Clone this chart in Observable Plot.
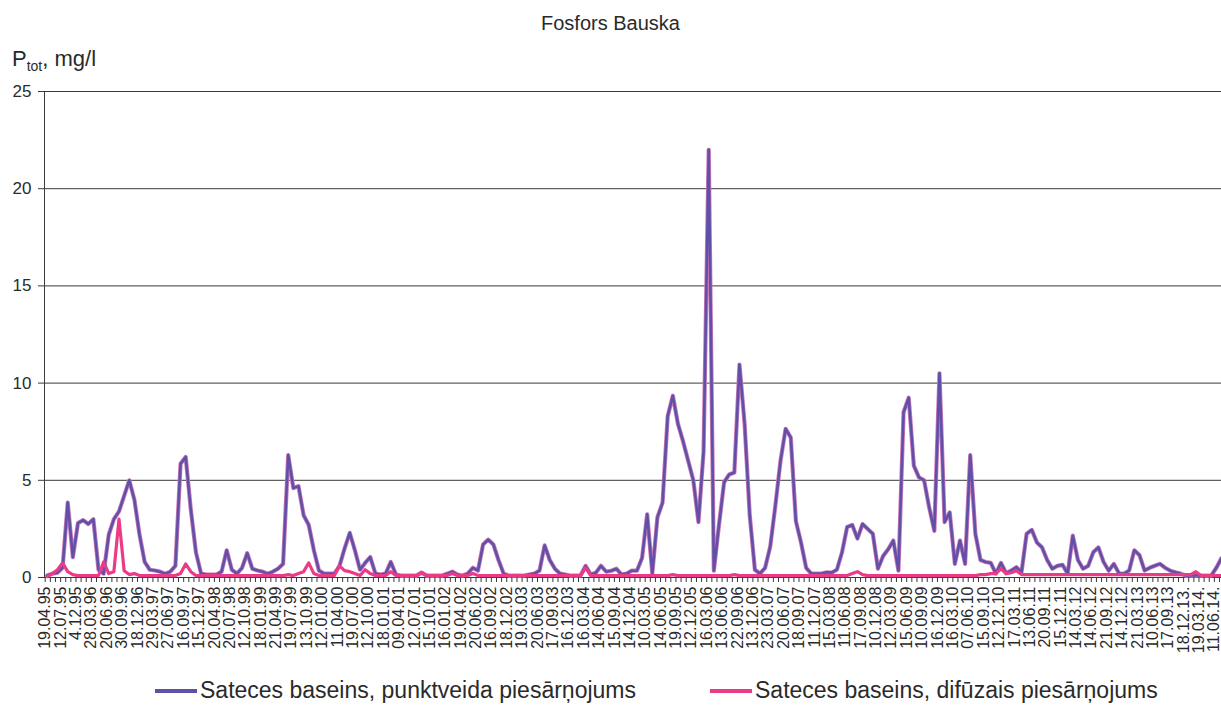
<!DOCTYPE html>
<html><head><meta charset="utf-8">
<script src="https://cdn.jsdelivr.net/npm/d3@7"></script>
<script src="https://cdn.jsdelivr.net/npm/@observablehq/plot@0.6"></script>
<style>
body{margin:0;background:#fff;font-family:"Liberation Sans",Arial,sans-serif;}
#wrap{position:relative;width:1221px;height:728px;overflow:hidden;background:#fff;}
#chart{position:absolute;left:0;top:0;}
#title{position:absolute;left:0;width:1221px;top:12px;text-align:center;font-size:20px;color:#2a2a2a;}
#ylab{position:absolute;left:12px;top:46px;font-size:22px;color:#2a2a2a;}
#ylab sub{font-size:14px;vertical-align:-5px;}
.item{position:absolute;top:677px;display:flex;align-items:center;font-size:23px;color:#2a2a2a;white-space:nowrap;}
.sw{display:inline-block;width:42px;height:4px;margin-right:3px;}
</style></head><body>
<div id="wrap">
<div id="chart"></div>
<div id="title">Fosfors Bauska</div>
<div id="ylab">P<sub>tot</sub>, mg/l</div>
<div id="leg1" class="item"><span class="sw" id="sw1"></span><span id="lt1"></span></div>
<div id="leg2" class="item"><span class="sw" id="sw2"></span><span id="lt2"></span></div>
</div>
<script>
const title = "Fosfors Bauska";
const seriesNames = ["Sateces baseins, punktveida piesārņojums", "Sateces baseins, difūzais piesārņojums"];
const seriesColors = ["#6050a8", "#ec3b86"];
const haloColor = "#c978b8";
const yTicks = [0, 5, 10, 15, 20, 25];
// tick labels: one label every 3rd sample
const dateLabels = ["19.04.95","12.07.95","4.12.95","28.03.96","20.06.96","30.09.96","18.12.96","29.03.97","27.06.97","16.09.97","15.12.97","20.04.98","20.07.98","12.10.98","18.01.99","21.04.99","19.07.99","13.10.99","12.01.00","11.04.00","19.07.00","12.10.00","18.01.01","09.04.01","12.07.01","15.10.01","16.01.02","19.04.02","20.06.02","16.09.02","18.12.02","19.03.03","20.06.03","17.09.03","16.12.03","16.03.04","14.06.04","15.09.04","14.12.04","10.03.05","14.06.05","19.09.05","12.12.05","16.03.06","13.06.06","22.09.06","13.12.06","23.03.07","20.06.07","18.09.07","11.12.07","15.03.08","11.06.08","17.09.08","10.12.08","12.03.09","15.06.09","10.09.09","16.12.09","16.03.10","07.06.10","15.09.10","12.12.10","17.03.11","13.06.11","20.09.11","15.12.11","14.03.12","14.06.12","21.09.12","14.12.12","21.03.13","10.06.13","17.09.13","18.12.13.","19.03.14.","11.06.14."];
// point source (purple), one value per sample
const pointSource = [
0.1,0.2,0.25,0.5,3.85,1.05,2.8,2.95,2.75,3.0,
0.4,0.2,2.2,3.0,3.4,4.2,5.0,4.0,2.2,0.8,
0.4,0.36,0.3,0.2,0.3,0.6,5.85,6.2,3.5,1.3,
0.2,0.15,0.15,0.15,0.3,1.4,0.4,0.2,0.5,1.25,
0.45,0.36,0.3,0.2,0.3,0.45,0.7,6.3,4.6,4.7,
3.2,2.7,1.4,0.35,0.2,0.2,0.2,0.6,1.5,2.3,
1.4,0.4,0.75,1.05,0.2,0.15,0.2,0.8,0.15,0.1,
0.1,0.1,0.1,0.25,0.1,0.1,0.1,0.1,0.2,0.3,
0.15,0.1,0.2,0.5,0.35,1.7,1.95,1.7,0.9,0.2,
0.1,0.1,0.1,0.1,0.15,0.2,0.35,1.65,0.9,0.45,
0.2,0.15,0.1,0.1,0.1,0.6,0.15,0.25,0.6,0.3,
0.35,0.45,0.15,0.2,0.35,0.35,1.0,3.25,0.2,3.1,
3.85,8.3,9.35,7.9,7.0,6.0,5.0,2.85,6.5,22.0,
0.35,2.7,4.9,5.3,5.4,10.95,7.9,3.2,0.4,0.2,
0.5,1.6,3.7,6.0,7.65,7.2,2.9,1.8,0.5,0.2,
0.2,0.2,0.27,0.25,0.4,1.3,2.6,2.7,2.0,2.75,
2.5,2.25,0.45,1.1,1.45,1.9,0.35,8.5,9.25,5.75,
5.15,5.0,3.6,2.4,10.5,2.85,3.35,0.7,1.9,0.7,
6.3,2.25,0.9,0.8,0.75,0.2,0.75,0.22,0.36,0.53,
0.27,2.25,2.45,1.8,1.55,0.9,0.45,0.6,0.65,0.2,
2.15,0.9,0.45,0.6,1.3,1.55,0.8,0.35,0.7,0.22,
0.2,0.36,1.4,1.15,0.36,0.5,0.6,0.7,0.5,0.35,
0.27,0.2,0.1,0.1,0.1,0.1,0.1,0.1,0.5,1.0
];
// diffuse source (pink)
const diffuseSource = [
0.05,0.2,0.4,0.75,0.3,0.15,0.1,0.1,0.1,0.1,
0.1,0.8,0.2,0.3,3.0,0.35,0.15,0.2,0.1,0.1,
0.1,0.1,0.1,0.1,0.1,0.1,0.2,0.7,0.3,0.1,
0.1,0.1,0.1,0.1,0.1,0.1,0.1,0.1,0.1,0.1,
0.1,0.1,0.1,0.1,0.1,0.1,0.1,0.15,0.1,0.2,
0.3,0.75,0.2,0.1,0.1,0.1,0.1,0.6,0.35,0.3,
0.2,0.1,0.4,0.2,0.1,0.1,0.1,0.3,0.1,0.1,
0.1,0.1,0.1,0.25,0.1,0.1,0.1,0.1,0.1,0.2,
0.1,0.1,0.1,0.2,0.1,0.1,0.1,0.1,0.1,0.1,
0.1,0.1,0.1,0.1,0.1,0.1,0.1,0.1,0.1,0.1,
0.1,0.1,0.1,0.1,0.1,0.5,0.1,0.1,0.1,0.1,
0.1,0.1,0.1,0.1,0.1,0.1,0.1,0.1,0.1,0.1,
0.1,0.1,0.15,0.1,0.1,0.1,0.1,0.1,0.1,0.1,
0.1,0.1,0.1,0.1,0.15,0.1,0.1,0.1,0.1,0.1,
0.1,0.1,0.1,0.1,0.1,0.1,0.1,0.1,0.1,0.1,
0.1,0.1,0.1,0.1,0.1,0.1,0.1,0.2,0.3,0.15,
0.1,0.1,0.1,0.1,0.1,0.1,0.1,0.1,0.1,0.1,
0.1,0.1,0.1,0.1,0.1,0.1,0.1,0.1,0.1,0.1,
0.1,0.1,0.15,0.15,0.2,0.2,0.45,0.2,0.25,0.35,
0.15,0.15,0.15,0.15,0.15,0.15,0.15,0.15,0.15,0.15,
0.15,0.15,0.15,0.15,0.15,0.15,0.15,0.15,0.15,0.15,
0.15,0.15,0.15,0.15,0.15,0.15,0.15,0.15,0.15,0.15,
0.15,0.15,0.15,0.15,0.3,0.1,0.1,0.1,0.1,0.1
];

const N = pointSource.length;
const idx = d3.range(N);
const font = '"Liberation Sans", Arial, sans-serif';

const chart = Plot.plot({
  width: 1221, height: 665,
  marginLeft: 44, marginRight: 0, marginTop: 91, marginBottom: 88,
  style: {fontFamily: font, color: "#2a2a2a", background: "transparent"},
  x: {type: "linear", domain: [-0.53, N - 1]},
  y: {domain: [0, 25]},
  marks: [
    Plot.ruleY(yTicks, {stroke: "#3a3a3a", strokeWidth: 1}),
    Plot.ruleX([-0.53], {y1: 0, y2: 25, stroke: "#3a3a3a", strokeWidth: 1}),
    Plot.lineY(pointSource, {x: (d, i) => i, y: d => d, stroke: haloColor, strokeWidth: 4.2, strokeLinejoin: "round"}),
    Plot.lineY(pointSource, {x: (d, i) => i, y: d => d, stroke: seriesColors[0], strokeWidth: 2.6, strokeLinejoin: "round"}),
    Plot.lineY(diffuseSource, {x: (d, i) => i, y: d => d, stroke: seriesColors[1], strokeWidth: 3.2, strokeLinejoin: "round"}),
    Plot.axisY({ticks: yTicks, tickSize: 6, tickPadding: 7, fontSize: 17, label: null, stroke: "#3a3a3a"}),
    Plot.axisX({ticks: idx, tickFormat: i => (i % 3 === 0 ? dateLabels[i / 3] : ""), tickRotate: -90, tickSize: 5, tickPadding: 4, fontSize: 16, dx: -2, label: null, stroke: "#3a3a3a"})
  ]
});
document.getElementById("chart").appendChild(chart);

document.getElementById("title").textContent = title;
document.getElementById("lt1").textContent = seriesNames[0];
document.getElementById("lt2").textContent = seriesNames[1];
document.getElementById("sw1").style.background = seriesColors[0];
document.getElementById("sw2").style.background = seriesColors[1];
document.getElementById("leg1").style.left = "155px";
document.getElementById("leg2").style.left = "710px";
</script>
</body></html>
